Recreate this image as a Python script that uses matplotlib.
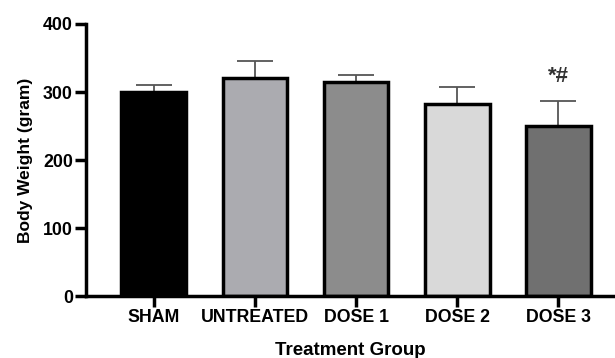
import matplotlib.pyplot as plt

plt.rcParams['font.family'] = ['Liberation Sans', 'DejaVu Sans']

# values
groups = ['SHAM', 'UNTREATED', 'DOSE 1', 'DOSE 2', 'DOSE 3']
means = [300, 321, 315, 283, 250]
sd = [10, 24, 10, 24, 37]
colors = ['#000000', '#ababb0', '#8c8c8c', '#d9d9d9', '#707070']

fig = plt.figure(figsize=(6.15, 3.58), dpi=100)
ax = fig.add_axes([0.14, 0.173, 0.86, 0.76])

x = list(range(len(groups)))
ax.errorbar(x, means, yerr=[[0] * len(sd), sd], fmt='none', ecolor='#555555',
            elinewidth=1.3, capsize=13, capthick=1.3, zorder=1)
ax.bar(x, means, width=0.64, color=colors, edgecolor='black', linewidth=2.5, zorder=2)

ax.text(4, means[4] + sd[4] + 20, '*#', ha='center', va='bottom',
        fontsize=16, fontweight='bold', color='#333333')

ax.set_xlim(-0.67, 4.56)
ax.set_ylim(0, 400)
ax.set_yticks([0, 100, 200, 300, 400])
ax.set_xticks(x)
ax.set_xticklabels(groups, fontweight='bold', fontsize=12.8)
for lab in ax.get_yticklabels():
    lab.set_fontweight('bold')
    lab.set_fontsize(12.8)

ax.spines['top'].set_visible(False)
ax.spines['right'].set_visible(False)
ax.spines['left'].set_linewidth(2.5)
ax.spines['bottom'].set_linewidth(2.5)
ax.tick_params(axis='both', width=2.5, length=8, pad=1.5)

ax.set_ylabel('Body Weight (gram)', fontweight='bold', fontsize=12.5, labelpad=7)
ax.set_xlabel('Treatment Group', fontweight='bold', fontsize=13.5, labelpad=11)

plt.savefig('out.png')
